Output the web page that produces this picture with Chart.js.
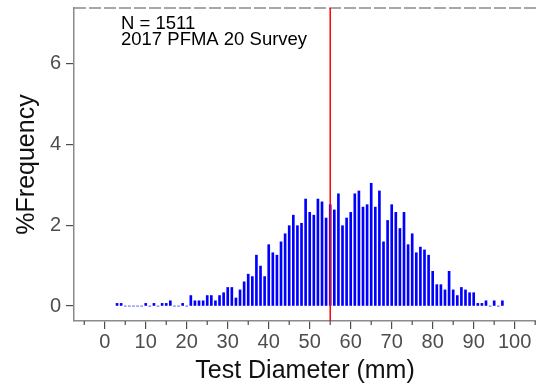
<!DOCTYPE html>
<html>
<head>
<meta charset="utf-8">
<script src="https://cdn.jsdelivr.net/npm/chart.js@4"></script>
<style>
  html, body { margin: 0; padding: 0; background: #fff; }
  #wrap { width: 536px; height: 385px; }
</style>
</head>
<body>
<div id="wrap"><canvas id="grafica"></canvas></div>
<script>
// diametros (mm) y % de frecuencia
const diametros = [];
for (let d = 3; d <= 97; d++) diametros.push(d);

const frecuencia = [
  0.066, 0.066, 0, 0, 0, 0, 0, 0.066, 0, 0.066,          // 3-12
  0, 0.066, 0.066, 0.13, 0, 0, 0.066, 0, 0.26, 0.13,     // 13-22
  0.13, 0.13, 0.26, 0.26, 0.13, 0.26, 0.33, 0.46, 0.46, 0.20, // 23-32
  0.40, 0.60, 0.79, 0.73, 1.26, 0.99, 0.73, 1.52, 1.32, 1.26, // 33-42
  1.59, 1.79, 1.99, 2.25, 1.99, 2.05, 2.65, 2.32, 2.25, 2.65, // 43-52
  2.58, 2.18, 2.51, 2.38, 2.78, 1.99, 2.18, 2.32, 2.78, 2.85, // 53-62
  2.45, 2.51, 3.04, 2.45, 2.85, 1.59, 2.12, 2.51, 2.32, 1.92, // 63-72
  2.32, 1.52, 1.79, 1.32, 1.46, 1.39, 1.26, 0.86, 0.53, 0.53, // 73-82
  0.40, 0.86, 0.40, 0.26, 0.46, 0.40, 0.33, 0.33, 0.066, 0.066, // 83-92
  0.13, 0, 0.13, 0, 0.13                                   // 93-97
];

const ticksX = [0, 10, 20, 30, 40, 50, 60, 70, 80, 90, 100];
const ticksY = [0, 2, 4, 6];
const lineaTalla = 55;
const textoNota = ["N = 1511", "2017 PFMA 20 Survey"];

const grisEje = "#8a8a8a";
const grisTick = "#4d4d4d";
const fuente = "'Liberation Sans', Arial, sans-serif";

// linea roja, borde superior discontinuo, ticks menores y nota
const extras = {
  id: "extras",
  afterDatasetsDraw(chart) {
    const { ctx, chartArea: a, scales } = chart;
    ctx.save();
    // borde superior
    ctx.strokeStyle = "#8c8c8c";
    ctx.lineWidth = 1.3;
    ctx.setLineDash([12, 3]);
    ctx.beginPath();
    ctx.moveTo(a.left, a.top);
    ctx.lineTo(a.right, a.top);
    ctx.stroke();
    ctx.setLineDash([]);
    // ticks menores cada 5
    ctx.strokeStyle = grisTick;
    ctx.lineWidth = 1.2;
    for (let v = -5; v <= 105; v += 10) {
      const x = scales.x.getPixelForValue(v);
      if (x < a.left || x > a.right) continue;
      ctx.beginPath();
      ctx.moveTo(x, a.bottom);
      ctx.lineTo(x, a.bottom + 4);
      ctx.stroke();
    }
    // linea roja
    const xr = scales.x.getPixelForValue(lineaTalla);
    ctx.strokeStyle = "#ff0000";
    ctx.lineWidth = 1.5;
    ctx.beginPath();
    ctx.moveTo(xr, a.top);
    ctx.lineTo(xr, a.bottom);
    ctx.stroke();
    // nota
    ctx.fillStyle = "#000";
    ctx.font = "18.5px " + fuente;
    ctx.textBaseline = "alphabetic";
    ctx.fillText(textoNota[0], 121, 29);
    ctx.fillText(textoNota[1], 121, 45);
    ctx.restore();
  }
};

new Chart(document.getElementById("grafica"), {
  type: "bar",
  data: {
    datasets: [{
      data: diametros.map((d, i) => ({ x: d, y: frecuencia[i] })),
      backgroundColor: "#0000ff",
      borderWidth: 0,
      barThickness: 2
    }]
  },
  options: {
    responsive: true,
    maintainAspectRatio: false,
    animation: false,
    layout: { padding: { top: 8, right: 0, left: 0, bottom: 0 } },
    plugins: {
      legend: { display: false },
      tooltip: { enabled: false }
    },
    scales: {
      x: {
        type: "linear",
        offset: false,
        min: -7.5,
        max: 105.2,
        afterFit: s => { s.height = 64; s.paddingLeft = 0; s.paddingRight = 0; },
        afterBuildTicks: s => { s.ticks = ticksX.map(v => ({ value: v })); },
        ticks: {
          color: grisTick,
          font: { family: fuente, size: 20 },
          padding: 1,
          maxRotation: 0,
          autoSkip: false
        },
        grid: { offset: false, drawOnChartArea: false, drawTicks: true, tickLength: 8, color: grisTick, lineWidth: 1.2 },
        border: { display: true, color: grisEje, width: 1.5 },
        title: {
          display: true,
          text: "Test Diameter (mm)",
          color: "#111",
          font: { family: fuente, size: 25 },
          padding: { top: 0, bottom: -1 }
        }
      },
      y: {
        min: -0.37,
        max: 7.38,
        afterFit: s => { s.width = 74; s.paddingTop = 0; s.paddingBottom = 0; },
        afterBuildTicks: s => { s.ticks = ticksY.map(v => ({ value: v })); },
        ticks: {
          color: grisTick,
          font: { family: fuente, size: 20 },
          padding: 5
        },
        grid: { drawOnChartArea: false, drawTicks: true, tickLength: 8, color: grisTick, lineWidth: 1.2 },
        border: { display: true, color: grisEje, width: 1.5 },
        title: {
          display: true,
          text: "%Frequency",
          color: "#111",
          font: { family: fuente, size: 25 },
          padding: { top: 12, bottom: 0 }
        }
      }
    }
  },
  plugins: [extras]
});
</script>
</body>
</html>
